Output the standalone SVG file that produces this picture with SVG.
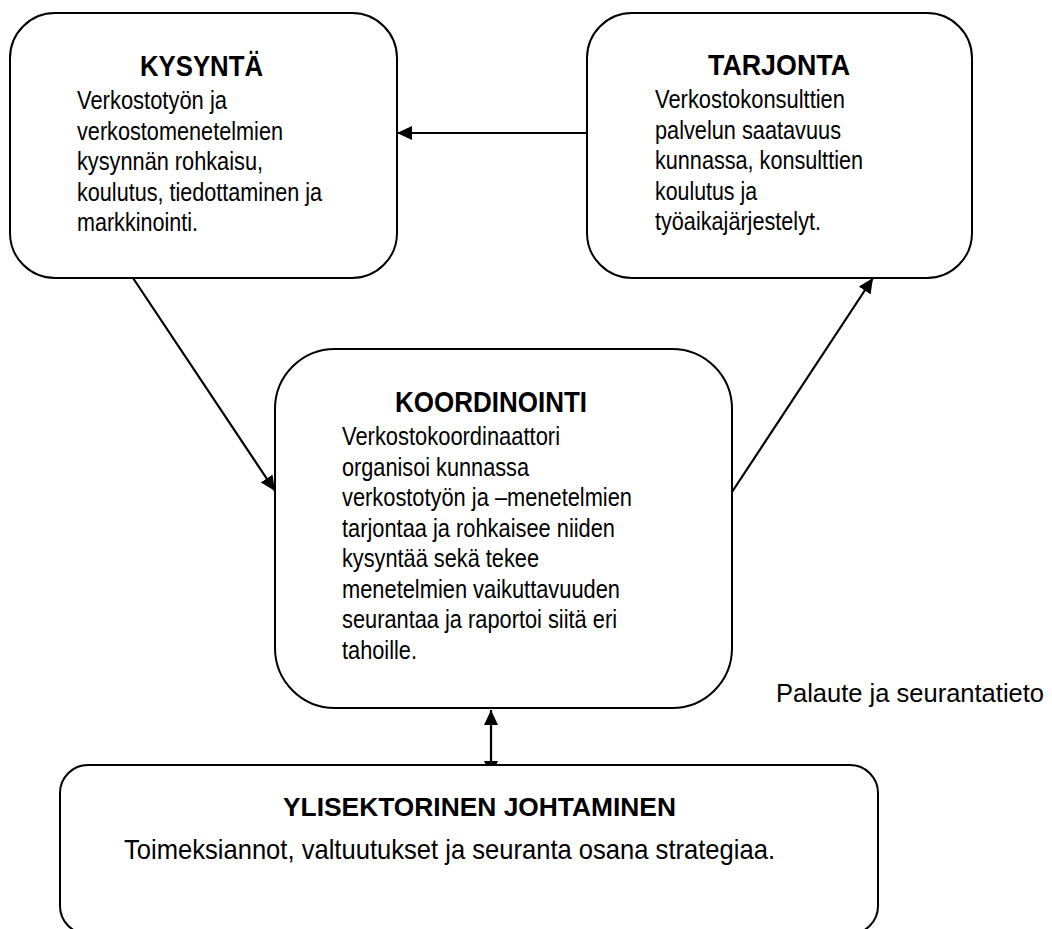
<svg xmlns="http://www.w3.org/2000/svg" width="1052" height="929" viewBox="0 0 1052 929">
<style>
.box{fill:#fff;stroke:#000;stroke-width:2}
.t{font-family:"Liberation Sans Narrow","Arial Narrow","Liberation Sans",Arial,sans-serif;font-weight:bold;font-size:30px;fill:#000}
.b{font-family:"Liberation Sans Narrow","Arial Narrow","Liberation Sans",Arial,sans-serif;font-size:26.5px;fill:#000}
.l{font-family:"Liberation Sans Narrow","Arial Narrow","Liberation Sans",Arial,sans-serif;font-size:28px;fill:#000}
.c{stroke:#000;stroke-width:2.2;fill:none}
</style>
<defs>
<marker id="ah" viewBox="0 0 15 14" refX="15" refY="7" markerWidth="15" markerHeight="14" markerUnits="userSpaceOnUse" orient="auto-start-reverse">
<path d="M0,0 L15,7 L0,14 Z" fill="#000"/>
</marker>
</defs>
<g id="connectors">
<line class="c" x1="587" y1="133" x2="397" y2="133" marker-end="url(#ah)"/>
<line class="c" x1="133" y1="278" x2="275" y2="491" marker-end="url(#ah)"/>
<line class="c" x1="732" y1="492" x2="873" y2="278" marker-end="url(#ah)"/>
<line class="c" x1="491" y1="710" x2="491" y2="776" marker-start="url(#ah)" marker-end="url(#ah)"/>
</g>
<g id="kysynta">
<rect class="box" x="10" y="13" width="387" height="265" rx="45" ry="45"/>
<text class="t" x="140" y="76" textLength="123" lengthAdjust="spacingAndGlyphs">KYSYNTÄ</text>
<text class="b" x="77" y="109" textLength="150" lengthAdjust="spacingAndGlyphs">Verkostotyön ja</text>
<text class="b" x="77" y="139.5" textLength="206" lengthAdjust="spacingAndGlyphs">verkostomenetelmien</text>
<text class="b" x="77" y="170" textLength="186" lengthAdjust="spacingAndGlyphs">kysynnän rohkaisu,</text>
<text class="b" x="77" y="200.5" textLength="245" lengthAdjust="spacingAndGlyphs">koulutus, tiedottaminen ja</text>
<text class="b" x="77" y="231" textLength="121" lengthAdjust="spacingAndGlyphs">markkinointi.</text>
</g>
<g id="tarjonta">
<rect class="box" x="587" y="13" width="385" height="265" rx="45" ry="45"/>
<text class="t" x="708" y="75" textLength="142" lengthAdjust="spacingAndGlyphs">TARJONTA</text>
<text class="b" x="655" y="108" textLength="190" lengthAdjust="spacingAndGlyphs">Verkostokonsulttien</text>
<text class="b" x="655" y="138.5" textLength="186" lengthAdjust="spacingAndGlyphs">palvelun saatavuus</text>
<text class="b" x="655" y="169" textLength="208" lengthAdjust="spacingAndGlyphs">kunnassa, konsulttien</text>
<text class="b" x="655" y="199.5" textLength="102" lengthAdjust="spacingAndGlyphs">koulutus ja</text>
<text class="b" x="655" y="230" textLength="166" lengthAdjust="spacingAndGlyphs">työaikajärjestelyt.</text>
</g>
<g id="koordinointi">
<rect class="box" x="275" y="349" width="457" height="359" rx="60" ry="60"/>
<text class="t" x="395" y="412" textLength="192" lengthAdjust="spacingAndGlyphs">KOORDINOINTI</text>
<text class="b" x="342" y="445" textLength="218" lengthAdjust="spacingAndGlyphs">Verkostokoordinaattori</text>
<text class="b" x="342" y="475.5" textLength="187" lengthAdjust="spacingAndGlyphs">organisoi kunnassa</text>
<text class="b" x="342" y="506" textLength="290" lengthAdjust="spacingAndGlyphs">verkostotyön ja –menetelmien</text>
<text class="b" x="342" y="536.5" textLength="273" lengthAdjust="spacingAndGlyphs">tarjontaa ja rohkaisee niiden</text>
<text class="b" x="342" y="567" textLength="197" lengthAdjust="spacingAndGlyphs">kysyntää sekä tekee</text>
<text class="b" x="342" y="597.5" textLength="278" lengthAdjust="spacingAndGlyphs">menetelmien vaikuttavuuden</text>
<text class="b" x="342" y="628" textLength="275" lengthAdjust="spacingAndGlyphs">seurantaa ja raportoi siitä eri</text>
<text class="b" x="342" y="658.5" textLength="75" lengthAdjust="spacingAndGlyphs">tahoille.</text>
</g>
<g id="ylisektorinen">
<rect class="box" x="60" y="765" width="818" height="169" rx="28" ry="28"/>
<text class="t" x="283" y="816" style="font-size:26px" textLength="393" lengthAdjust="spacingAndGlyphs">YLISEKTORINEN JOHTAMINEN</text>
<text class="l" x="124" y="859" textLength="651" lengthAdjust="spacingAndGlyphs">Toimeksiannot, valtuutukset ja seuranta osana strategiaa.</text>
</g>
<g id="palaute">
<text class="l" x="776" y="702" style="font-size:25.5px" textLength="268" lengthAdjust="spacingAndGlyphs">Palaute ja seurantatieto</text>
</g>
</svg>
